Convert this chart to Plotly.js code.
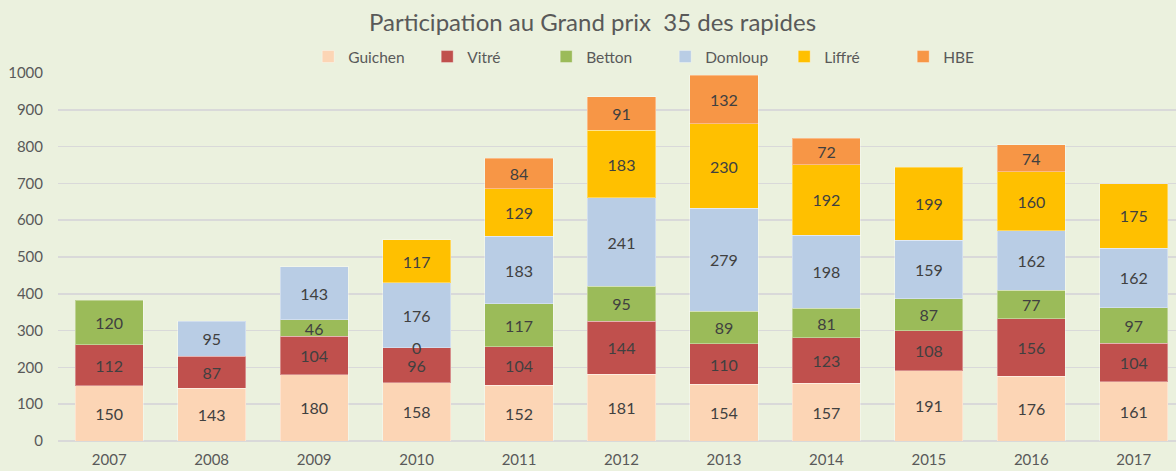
<!DOCTYPE html>
<html>
<head>
<meta charset="utf-8">
<script src="https://cdn.plot.ly/plotly-3.0.1.min.js"></script>
<style>
html,body{margin:0;padding:0;overflow:hidden;background:#EBF1DE;}
#chart{width:1185px;height:471px;}
</style>
</head>
<body>
<div id="chart"></div>
<script>
const years = ['2007','2008','2009','2010','2011','2012','2013','2014','2015','2016','2017'];
const guichen = [150,143,180,158,152,181,154,157,191,176,161];
const vitre   = [112,87,104,96,104,144,110,123,108,156,104];
const betton  = [120,null,46,0,117,95,89,81,87,77,97];
const domloup = [null,95,143,176,183,241,279,198,159,162,162];
const liffre  = [null,null,null,117,129,183,230,192,199,160,175];
const hbe     = [null,null,null,null,84,91,132,72,null,74,null];

const seriesNames = ['Guichen','Vitré','Betton','Domloup','Liffré','HBE'];
const seriesData = [guichen, vitre, betton, domloup, liffre, hbe];
const colors = ['#FCD5B5','#C0504D','#9BBB59','#B9CDE5','#FFC000','#F79646'];

const font = 'Lato, sans-serif';

const traces = seriesData.map((vals, i) => ({
  type: 'bar',
  name: seriesNames[i],
  x: years,
  y: vals,
  marker: {color: colors[i], line: {color: 'rgba(255,255,255,0.35)', width: 1}},
  text: vals.map(v => v === null || v === 0 ? '' : String(v)),
  textposition: 'inside',
  insidetextanchor: 'middle',
  textangle: 0,
  constraintext: 'none',
  textfont: {family: font, size: 16, color: '#404040'},
  hoverinfo: 'x+y+name'
}));

// label for zero-height segments, placed at the top of the stack below them
const annotations = [];
seriesData.forEach((vals, i) => {
  vals.forEach((v, j) => {
    if (v === 0) {
      let base = 0;
      for (let k = 0; k < i; k++) base += seriesData[k][j] || 0;
      annotations.push({x: j, y: base, text: '0', showarrow: false,
        font: {family: font, size: 16, color: '#404040'}, xref: 'x', yref: 'y'});
    }
  });
});

const layout = {
  width: 1185, height: 471,
  paper_bgcolor: '#EBF1DE', plot_bgcolor: '#EBF1DE',
  margin: {l: 58, r: 0, t: 73, b: 30},
  barmode: 'stack',
  bargap: 0.335,
  title: {text: 'Participation au Grand prix  35 des rapides', x: 0.5, xanchor: 'center',
          y: 0.951, yanchor: 'middle', font: {family: font, size: 24, color: '#595959'}},
  font: {family: font, color: '#595959'},
  legend: {orientation: 'h', x: 0.222, xanchor: 'left', y: 1.0435, yanchor: 'middle',
           traceorder: 'normal', entrywidth: 74, entrywidthmode: 'pixels',
           font: {family: font, size: 15.5, color: '#595959'}, bgcolor: 'rgba(0,0,0,0)'},
  xaxis: {type: 'category', range: [-0.5, 10.5], showgrid: false, showline: false, ticks: '',
          tickfont: {family: font, size: 15, color: '#595959'}, ticklabelstandoff: 8},
  yaxis: {range: [0, 1000], dtick: 100, tick0: 0, showgrid: true, gridcolor: '#D9D9D9', gridwidth: 1.5,
          zeroline: true, zerolinecolor: '#D9D9D9', zerolinewidth: 1.5, showline: false,
          ticks: '', ticklabelstandoff: 14, tickfont: {family: font, size: 15, color: '#595959'}},
  annotations: annotations,
  showlegend: true
};

Plotly.newPlot('chart', traces, layout, {displayModeBar: false, staticPlot: true});
</script>
</body>
</html>
